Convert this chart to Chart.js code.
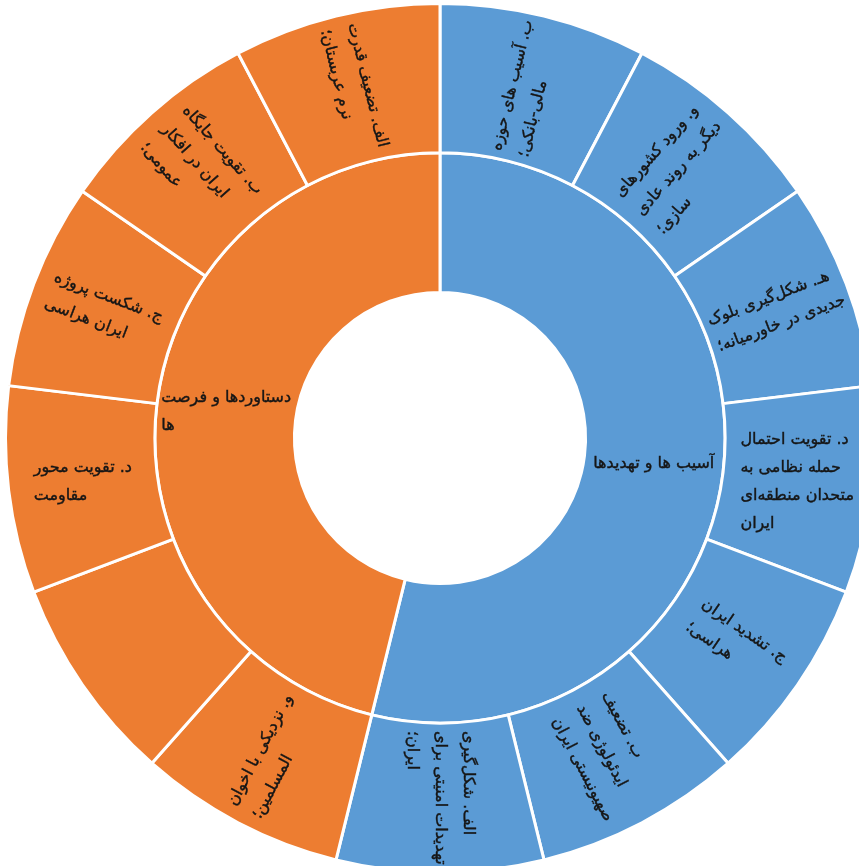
<!DOCTYPE html>
<html>
<head>
<meta charset="utf-8">
<script src="https://cdn.jsdelivr.net/npm/chart.js@4.4.1/dist/chart.umd.min.js"></script>
<style>
  html, body { margin: 0; padding: 0; background: #fff; overflow: hidden; }
  #wrap { position: absolute; left: 0; top: 0; width: 884px; height: 876px; }
</style>
</head>
<body>
<div id="wrap"><canvas id="chart"></canvas></div>
<script>
// inner ring: the two main groups
const groupLabels = [
  ['آسیب ها و تهدیدها'],
  ['دستاوردها و فرصت', 'ها']
];
const groupValues = [7, 6];

// outer ring: items, clockwise from the top
const itemLabels = [
  ['ب. آسیب های حوزه', 'مالی-بانکی؛'],
  ['و. ورود کشورهای', 'دیگر به روند عادی', 'سازی؛'],
  ['هـ. شکل‌گیری بلوک', 'جدیدی در خاورمیانه؛'],
  ['د. تقویت احتمال', 'حمله نظامی به', 'متحدان منطقه‌ای', 'ایران'],
  ['ج. تشدید ایران', 'هراسی؛'],
  ['ب. تضعیف', 'ایدئولوژی ضد', 'صهیونیستی ایران'],
  ['الف. شکل‌گیری', 'تهدیدات امنیتی برای', 'ایران؛'],
  ['و. نزدیکی با اخوان', 'المسلمین؛'],
  [''],
  ['د. تقویت محور', 'مقاومت'],
  ['ج. شکست پروژه', 'ایران هراسی'],
  ['ب. تقویت جایگاه', 'ایران در افکار', 'عمومی؛'],
  ['الف. تضعیف قدرت', 'نرم عربستان؛']
];
const itemValues = [1, 1, 1, 1, 1, 1, 1, 1, 1, 1, 1, 1, 1];
const itemGroup = [0, 0, 0, 0, 0, 0, 0, 1, 1, 1, 1, 1, 1];

const palette = ['#5b9bd5', '#ed7d31'];

// draws the wrapped labels inside each arc, turned along the radius like a sunburst
const sliceText = {
  id: 'sliceText',
  afterDatasetsDraw(chart) {
    const ctx = chart.ctx;
    chart.data.datasets.forEach((ds, di) => {
      const meta = chart.getDatasetMeta(di);
      meta.data.forEach((arc, i) => {
        const lines = ds.textLines[i];
        const p = arc.getProps(['x', 'y', 'startAngle', 'endAngle', 'innerRadius', 'outerRadius']);
        const a = (p.startAngle + p.endAngle) / 2;
        const r = (p.innerRadius + p.outerRadius) / 2;
        const cx = p.x + Math.cos(a) * r;
        const cy = p.y + Math.sin(a) * r;
        // angle clockwise from top, in degrees
        let deg = ((a + Math.PI / 2) * 180 / Math.PI) % 360;
        if (deg < 0) deg += 360;
        let rot = deg < 181 ? a : a - Math.PI;
        let rd = (rot * 180 / Math.PI) % 360;
        if (rd > 180) rd -= 360;
        if (rd < -180) rd += 360;
        if (Math.abs(rd) < 10) rot = 0;

        ctx.save();
        ctx.translate(cx, cy);
        ctx.rotate(rot);
        ctx.font = '16px "DejaVu Sans"';
        ctx.fillStyle = '#161616';
        ctx.strokeStyle = '#161616';
        ctx.lineWidth = 0.4;
        ctx.direction = 'rtl';
        ctx.textAlign = 'left';
        ctx.textBaseline = 'middle';
        const lh = 28;
        let w = 0;
        lines.forEach(t => { w = Math.max(w, ctx.measureText(t).width); });
        lines.forEach((t, k) => {
          const ty = (k - (lines.length - 1) / 2) * lh;
          ctx.fillText(t, -w / 2, ty);
          ctx.strokeText(t, -w / 2, ty);
        });
        ctx.restore();
      });
    });
  }
};

new Chart(document.getElementById('chart'), {
  type: 'doughnut',
  data: {
    datasets: [
      {
        data: itemValues,
        textLines: itemLabels,
        backgroundColor: itemGroup.map(g => palette[g]),
        borderColor: '#ffffff',
        borderWidth: 3,
        weight: 1.07
      },
      {
        data: groupValues,
        textLines: groupLabels,
        backgroundColor: palette,
        borderColor: '#ffffff',
        borderWidth: 3,
        weight: 1
      }
    ]
  },
  options: {
    responsive: true,
    maintainAspectRatio: false,
    animation: false,
    cutout: '33.5%',
    layout: { padding: { top: 2, bottom: 2, left: 4, right: 8 } },
    plugins: {
      legend: { display: false },
      tooltip: { enabled: false }
    }
  },
  plugins: [sliceText]
});
</script>
</body>
</html>
